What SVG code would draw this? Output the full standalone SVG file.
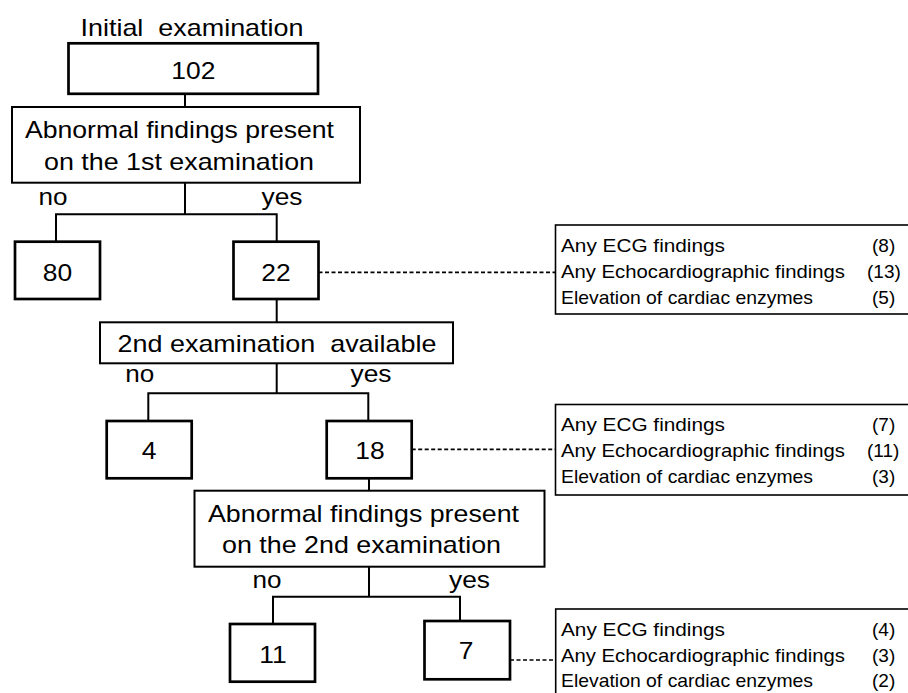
<svg xmlns="http://www.w3.org/2000/svg" width="908" height="693" viewBox="0 0 908 693">
<style>
  text { font-family: "Liberation Sans", Arial, Helvetica, sans-serif; fill: #000; }
  .t { font-size: 24px; }
  .c { font-size: 19px; }
  .num { font-size: 24px; text-anchor: middle; }
  .pre { white-space: pre; }
  .nbox { fill: #fff; stroke: #000; stroke-width: 2.7; }
  .qbox { fill: #fff; stroke: #000; stroke-width: 2; }
  .cbox { fill: #fff; stroke: #000; stroke-width: 1.6; }
  .ln { fill: none; stroke: #000; stroke-width: 2; }
  .dash { fill: none; stroke: #000; stroke-width: 1.7; stroke-dasharray: 4 2.5; }
</style>
<rect width="908" height="693" fill="#fff"/>

<g id="connectors">
  <path class="ln" d="M185 94 V107"/>
  <path class="ln" d="M185 183 V214.3 M56 214.3 H276.7 M56 213.3 V241.7 M276.7 213.3 V241.7"/>
  <path class="ln" d="M276.7 299 V322.3"/>
  <path class="ln" d="M276.7 363.3 V393.3 M148.3 393.3 H368.3 M148.3 392.3 V421 M368.3 392.3 V421"/>
  <path class="ln" d="M369 478.3 V490.7"/>
  <path class="ln" d="M369 566.7 V596.7 M273 596.7 H460 M273 595.7 V624 M460 595.7 V621"/>
  <path class="dash" d="M318.5 272.3 H555.5"/>
  <path class="dash" d="M411.7 449.3 H555.5"/>
  <path class="dash" d="M510 660 H555.7"/>
</g>

<g id="title">
  <text class="t pre" xml:space="preserve" x="80.5" y="36" textLength="223" lengthAdjust="spacingAndGlyphs">Initial  examination</text>
</g>

<g id="n102">
  <rect class="nbox" x="68.5" y="43.3" width="249.5" height="50.5"/>
  <text class="num" transform="translate(193.3 79) scale(1.1 1)">102</text>
</g>

<g id="q1">
  <rect class="qbox" x="12" y="107" width="348" height="75.7"/>
  <text class="t" x="25" y="138.3" textLength="309" lengthAdjust="spacingAndGlyphs">Abnormal findings present</text>
  <text class="t" x="44" y="170" textLength="270" lengthAdjust="spacingAndGlyphs">on the 1st examination</text>
</g>

<g id="labels1">
  <text class="t" x="38.5" y="205" textLength="29" lengthAdjust="spacingAndGlyphs">no</text>
  <text class="t" x="261.5" y="205" textLength="41" lengthAdjust="spacingAndGlyphs">yes</text>
</g>

<g id="n80">
  <rect class="nbox" x="15" y="241.7" width="85" height="57.3"/>
  <text class="num" transform="translate(57.5 280.7) scale(1.1 1)">80</text>
</g>

<g id="n22">
  <rect class="nbox" x="233.5" y="241.7" width="85" height="57.3"/>
  <text class="num" transform="translate(276 280.7) scale(1.1 1)">22</text>
</g>

<g id="callout1">
  <rect class="cbox" x="555.5" y="225" width="370" height="89"/>
  <text class="c" x="561" y="252" textLength="164" lengthAdjust="spacingAndGlyphs">Any ECG findings</text>
  <text class="c" x="561" y="278" textLength="284" lengthAdjust="spacingAndGlyphs">Any Echocardiographic findings</text>
  <text class="c" x="561" y="304" textLength="252" lengthAdjust="spacingAndGlyphs">Elevation of cardiac enzymes</text>
  <text class="c" x="872" y="252">(8)</text>
  <text class="c" x="867" y="278">(13)</text>
  <text class="c" x="872" y="304">(5)</text>
</g>

<g id="q2">
  <rect class="qbox" x="100" y="322.3" width="353" height="41"/>
  <text class="t pre" xml:space="preserve" x="117.5" y="351.7" textLength="319" lengthAdjust="spacingAndGlyphs">2nd examination  available</text>
</g>

<g id="labels2">
  <text class="t" x="125.2" y="382.3" textLength="29" lengthAdjust="spacingAndGlyphs">no</text>
  <text class="t" x="350.5" y="382.3" textLength="41" lengthAdjust="spacingAndGlyphs">yes</text>
</g>

<g id="n4">
  <rect class="nbox" x="106.7" y="421" width="85" height="57.3"/>
  <text class="num" transform="translate(149 459) scale(1.1 1)">4</text>
</g>

<g id="n18">
  <rect class="nbox" x="326.7" y="421" width="85" height="57.3"/>
  <text class="num" transform="translate(370 459) scale(1.1 1)">18</text>
</g>

<g id="callout2">
  <rect class="cbox" x="555.5" y="404.5" width="370" height="90.5"/>
  <text class="c" x="561" y="431" textLength="164" lengthAdjust="spacingAndGlyphs">Any ECG findings</text>
  <text class="c" x="561" y="457" textLength="284" lengthAdjust="spacingAndGlyphs">Any Echocardiographic findings</text>
  <text class="c" x="561" y="483" textLength="252" lengthAdjust="spacingAndGlyphs">Elevation of cardiac enzymes</text>
  <text class="c" x="872" y="431">(7)</text>
  <text class="c" x="867" y="457">(11)</text>
  <text class="c" x="872" y="483">(3)</text>
</g>

<g id="q3">
  <rect class="qbox" x="194.5" y="490.7" width="350" height="76"/>
  <text class="t" x="208" y="521.7" textLength="311" lengthAdjust="spacingAndGlyphs">Abnormal findings present</text>
  <text class="t" x="222" y="553" textLength="279" lengthAdjust="spacingAndGlyphs">on the 2nd examination</text>
</g>

<g id="labels3">
  <text class="t" x="252.5" y="588" textLength="29" lengthAdjust="spacingAndGlyphs">no</text>
  <text class="t" x="449" y="588" textLength="41" lengthAdjust="spacingAndGlyphs">yes</text>
</g>

<g id="n11">
  <rect class="nbox" x="230" y="624" width="85" height="57.7"/>
  <text class="num" transform="translate(273 662.7) scale(1.1 1)">11</text>
</g>

<g id="n7">
  <rect class="nbox" x="424.5" y="621" width="85.5" height="58.3"/>
  <text class="num" transform="translate(466 659) scale(1.1 1)">7</text>
</g>

<g id="callout3">
  <rect class="cbox" x="555.7" y="609" width="370" height="100"/>
  <text class="c" x="561" y="635.5" textLength="164" lengthAdjust="spacingAndGlyphs">Any ECG findings</text>
  <text class="c" x="561" y="661.5" textLength="284" lengthAdjust="spacingAndGlyphs">Any Echocardiographic findings</text>
  <text class="c" x="561" y="687" textLength="252" lengthAdjust="spacingAndGlyphs">Elevation of cardiac enzymes</text>
  <text class="c" x="872" y="635.5">(4)</text>
  <text class="c" x="872" y="661.5">(3)</text>
  <text class="c" x="872" y="687">(2)</text>
</g>
</svg>
